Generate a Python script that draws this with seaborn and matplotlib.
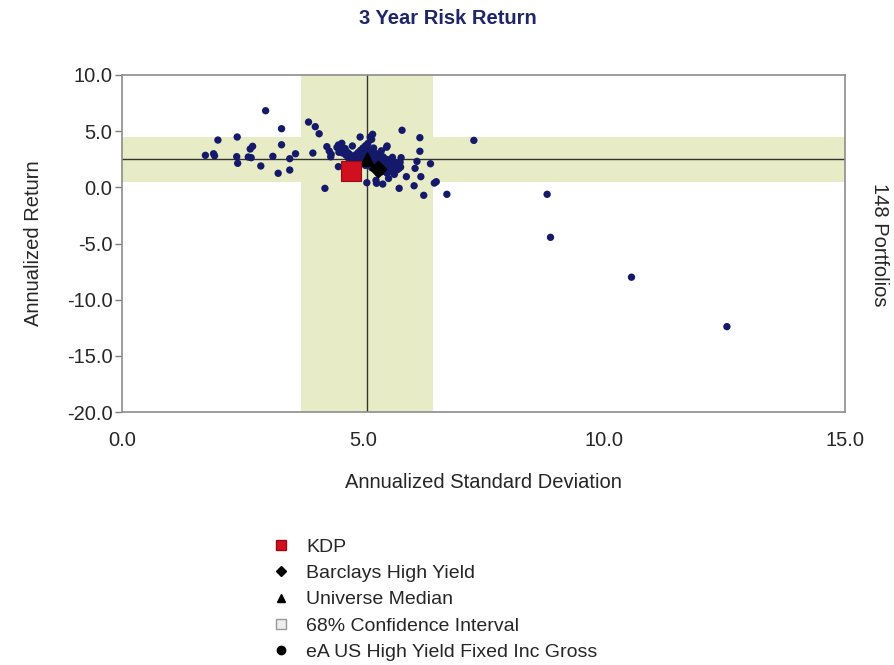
import numpy as np
import pandas as pd
import matplotlib
matplotlib.use("Agg")
import matplotlib.pyplot as plt
from matplotlib.lines import Line2D
from matplotlib.ticker import FormatStrFormatter
import seaborn as sns

# universe of 148 portfolios (annualized std dev, annualized return)
std_dev = [2.98, 1.99, 2.39, 3.31, 3.31, 2.71, 2.66, 1.73, 1.90, 1.92,
           2.38, 2.40, 2.62, 2.68, 2.88, 3.13, 3.24, 3.48, 3.48, 3.60,
           3.87, 4.01, 4.09, 3.96, 4.21, 4.25, 4.30, 4.34, 4.49, 4.52,
           4.56, 4.50, 4.78, 4.94, 5.15, 5.20, 5.81, 6.18, 6.18, 6.12,
           6.40, 7.30, 6.20, 5.90, 6.06, 6.26, 6.48, 6.52, 6.74, 5.75,
           5.08, 5.27, 5.28, 5.41, 5.53, 5.50, 5.61, 5.79, 5.77, 8.82,
           8.89, 10.57, 12.55, 4.33, 4.49, 5.18, 4.46, 4.63, 6.08, 5.49,
           5.65, 5.70, 5.65, 5.74,
           4.62, 4.68, 4.72, 4.75, 4.80, 4.70, 4.85, 4.90, 4.95, 5.00,
           5.05, 5.10, 5.08, 5.12, 5.15, 5.02, 4.98, 4.92, 4.88, 5.00,
           5.05, 5.10, 5.15, 5.18, 5.20, 5.22, 5.25, 5.28, 5.20, 5.25,
           5.30, 5.32, 5.35, 5.30, 5.38, 5.40, 5.42, 5.45, 5.48, 5.50,
           5.52, 5.55, 5.58, 5.60, 5.62, 5.45, 5.40, 5.35, 5.28, 5.22,
           5.15, 5.10, 4.95, 4.85, 4.78, 4.65, 4.58, 5.35, 5.42, 5.48,
           5.55, 5.62, 5.68, 5.72, 5.78, 5.05, 5.18, 5.32, 5.50, 5.65,
           5.12, 5.38, 5.00, 5.58]
returns = [6.82, 4.21, 4.48, 5.22, 3.79, 3.65, 3.41, 2.85, 2.99, 2.81,
           2.73, 2.14, 2.70, 2.64, 1.90, 2.76, 1.25, 2.55, 1.54, 2.99,
           5.81, 5.40, 4.77, 3.05, -0.09, 3.62, 3.23, 2.94, 3.77, 3.62,
           3.92, 3.12, 3.68, 4.48, 4.48, 4.72, 5.08, 4.42, 3.21, 2.31,
           2.10, 4.18, 0.95, 0.95, 0.14, -0.71, 0.38, 0.50, -0.62, -0.09,
           0.41, 0.62, 0.36, 0.29, 0.79, 3.68, 2.67, 2.64, 2.23, -0.62,
           -4.45, -8.00, -12.40, 2.72, 1.84, 4.27, 3.55, 3.45, 1.69, 3.57,
           1.84, 1.54, 1.39, 1.66,
           3.30, 3.10, 2.95, 2.80, 2.70, 2.60, 2.90, 3.10, 3.30, 3.50,
           3.70, 3.90, 3.55, 3.35, 3.15, 3.00, 2.80, 2.65, 2.50, 2.55,
           2.35, 2.75, 2.55, 2.95, 3.25, 3.50, 3.05, 2.80, 2.40, 2.20,
           2.60, 2.35, 2.10, 1.95, 1.80, 2.45, 2.20, 1.95, 1.75, 2.30,
           2.05, 1.85, 1.60, 2.10, 1.95, 1.55, 1.40, 1.55, 1.65, 1.85,
           2.05, 2.20, 2.30, 2.20, 2.40, 2.85, 3.05, 2.90, 2.70, 2.50,
           2.45, 2.35, 2.20, 1.95, 1.80, 1.95, 1.75, 1.25, 1.25, 1.15,
           2.95, 3.25, 2.15, 1.45]

kdp = (4.75, 1.47)
barclays = (5.32, 1.65)
median = (5.08, 2.50)
ci_std = (3.71, 6.46)
ci_ret = (0.50, 4.50)

x_ticks = [0.0, 5.0, 10.0, 15.0]
y_ticks = [10.0, 5.0, 0.0, -5.0, -10.0, -15.0, -20.0]

df = pd.DataFrame({"std": std_dev[:148], "ret": returns[:148]})

sns.set_style("white")
plt.rcParams['font.family'] = ['Liberation Sans', 'DejaVu Sans']

fig = plt.figure(figsize=(8.95, 6.65), dpi=100)
ax = fig.add_axes([122/895, 1-412/665, 723/895, 337/665])

band = '#e7ecc6'
ax.axvspan(ci_std[0], ci_std[1], color=band, lw=0, zorder=0)
ax.axhspan(ci_ret[0], ci_ret[1], color=band, lw=0, zorder=0)
ax.axvline(median[0], color='#333333', lw=1, zorder=1)
ax.axhline(median[1], color='#333333', lw=1, zorder=1)

sns.scatterplot(data=df, x="std", y="ret", ax=ax, color='#15196a', s=28,
                edgecolor='none', zorder=3, legend=False)
ax.scatter([median[0]], [median[1]], marker='^', s=90, color='black', zorder=4)
ax.scatter([barclays[0]], [barclays[1]], marker='D', s=70, color='black', zorder=5)
ax.scatter([kdp[0]], [kdp[1]], marker='s', s=190, color='#d0101e',
           edgecolor='#9a0a14', lw=0.8, zorder=6)

ax.set_xlim(0, 15)
ax.set_ylim(-20, 10)
ax.set_xticks(x_ticks)
ax.set_yticks(y_ticks)
ax.xaxis.set_major_formatter(FormatStrFormatter('%.1f'))
ax.yaxis.set_major_formatter(FormatStrFormatter('%.1f'))
ax.tick_params(axis='x', direction='in', length=7, width=1, color='#808080',
               labelsize=14.5, pad=14)
ax.tick_params(axis='y', direction='out', length=5, width=1, color='#808080',
               labelsize=14.5, pad=2, left=True)
for sp in ax.spines.values():
    sp.set_color('#8c8c8c')
    sp.set_linewidth(1.2)

ax.set_xlabel('Annualized Standard Deviation', fontsize=14.5, labelpad=16)
ax.set_ylabel('Annualized Return', fontsize=14.5, labelpad=17)
fig.text(880/895, 1-245/665, '148 Portfolios', rotation=-90, fontsize=14.5,
         ha='center', va='center')
fig.text(448/895, 1-18/665, '3 Year Risk Return', fontsize=14.5, fontweight='bold',
         color='#1f2668', ha='center', va='center')

handles = [
    Line2D([], [], ls='none', marker='s', ms=7, color='#d0101e', mec='#9a0a14'),
    Line2D([], [], ls='none', marker='D', ms=5, color='black'),
    Line2D([], [], ls='none', marker='^', ms=6, color='black'),
    Line2D([], [], ls='none', marker='s', ms=6.5, mfc='#eeeeee', mec='#999999'),
    Line2D([], [], ls='none', marker='o', ms=6, color='black'),
]
labels = ['KDP', 'Barclays High Yield', 'Universe Median',
          '68% Confidence Interval', 'eA US High Yield Fixed Inc Gross']
fig.legend(handles, labels, loc='upper left', bbox_to_anchor=(271/895, 1-538/665),
           frameon=False, fontsize=14, handlelength=1.0, handletextpad=0.8,
           labelspacing=0.45, borderpad=0, borderaxespad=0)

fig.savefig('out.png', dpi=100, facecolor='white')
